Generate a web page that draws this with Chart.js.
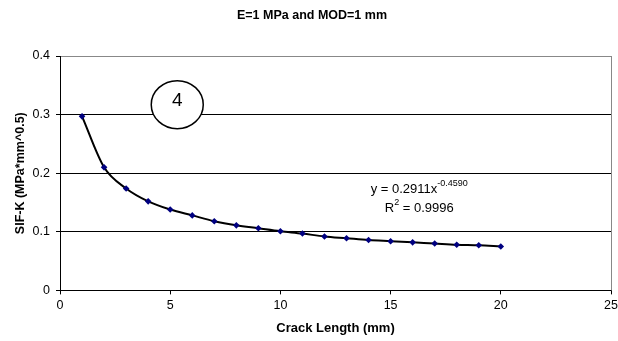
<!DOCTYPE html>
<html>
<head>
<meta charset="utf-8">
<script src="https://cdn.jsdelivr.net/npm/chart.js@4"></script>
<style>
  html, body { margin: 0; padding: 0; background: #fff; }
  #wrap { width: 618px; height: 341px; }
</style>
</head>
<body>
<div id="wrap"><canvas id="sifChart" width="618" height="341"></canvas></div>
<script>
const crackLength = [1, 2, 3, 4, 5, 6, 7, 8, 9, 10, 11, 12, 13, 14, 15, 16, 17, 18, 19, 20];
const sifK = [0.297, 0.210, 0.174, 0.152, 0.138, 0.128, 0.118, 0.111, 0.106, 0.101,
              0.097, 0.092, 0.089, 0.086, 0.084, 0.082, 0.080, 0.078, 0.077, 0.075];
const equationText = ['y = 0.2911x', '-0.4590'];
const rSquaredText = ['R', '2', ' = 0.9996'];
const markerLabel = '4';
const markerAt = { x: 5.32, y: 0.317 };
const equationAt = { x: 16.3, y: 0.172, y2: 0.140 };

const FONT = "'Liberation Sans', Arial, sans-serif";

// circle "4", equation text, and plot border
const extras = {
  id: 'extras',
  afterDatasetsDraw(chart) {
    const { ctx, chartArea, scales } = chart;
    ctx.save();
    // right border
    ctx.strokeStyle = '#888';
    ctx.lineWidth = 1;
    ctx.beginPath();
    ctx.moveTo(chartArea.right + 0.5, chartArea.top);
    ctx.lineTo(chartArea.right + 0.5, chartArea.bottom);
    ctx.stroke();

    // circled label
    const cx = scales.x.getPixelForValue(markerAt.x);
    const cy = scales.y.getPixelForValue(markerAt.y);
    ctx.beginPath();
    ctx.ellipse(cx, cy, 26, 24, 0, 0, Math.PI * 2);
    ctx.fillStyle = '#fff';
    ctx.fill();
    ctx.strokeStyle = '#000';
    ctx.lineWidth = 1.5;
    ctx.stroke();
    ctx.fillStyle = '#000';
    ctx.font = '19px ' + FONT;
    ctx.textAlign = 'center';
    ctx.textBaseline = 'middle';
    ctx.fillText(markerLabel, cx, cy - 4);

    // trendline equation
    const big = '13px ' + FONT, small = '9px ' + FONT;
    const ex = scales.x.getPixelForValue(equationAt.x);
    const ey = scales.y.getPixelForValue(equationAt.y);
    const ey2 = scales.y.getPixelForValue(equationAt.y2);
    ctx.textAlign = 'left';
    ctx.textBaseline = 'middle';
    ctx.font = big;
    const w1 = ctx.measureText(equationText[0]).width;
    ctx.font = small;
    const w2 = ctx.measureText(equationText[1]).width;
    let x0 = ex - (w1 + w2) / 2;
    ctx.font = big;
    ctx.fillText(equationText[0], x0, ey);
    ctx.font = small;
    ctx.fillText(equationText[1], x0 + w1, ey - 6);

    ctx.font = big;
    const r1 = ctx.measureText(rSquaredText[0]).width;
    const r3 = ctx.measureText(rSquaredText[2]).width;
    ctx.font = small;
    const r2 = ctx.measureText(rSquaredText[1]).width;
    x0 = ex - (r1 + r2 + r3) / 2;
    ctx.font = big;
    ctx.fillText(rSquaredText[0], x0, ey2);
    ctx.font = small;
    ctx.fillText(rSquaredText[1], x0 + r1, ey2 - 6);
    ctx.font = big;
    ctx.fillText(rSquaredText[2], x0 + r1 + r2, ey2);
    ctx.restore();
  }
};

const ctx = document.getElementById('sifChart').getContext('2d');
new Chart(ctx, {
  type: 'scatter',
  data: {
    datasets: [{
      data: crackLength.map((x, i) => ({ x, y: sifK[i] })),
      showLine: true,
      borderColor: '#000',
      borderWidth: 2,
      tension: 0.4,
      cubicInterpolationMode: 'monotone',
      pointStyle: 'rectRot',
      pointRadius: 3.3,
      pointBackgroundColor: '#000080',
      pointBorderColor: '#000080',
      pointBorderWidth: 0
    }]
  },
  options: {
    responsive: false,
    animation: false,
    layout: { padding: { left: 13, right: 7, top: 0, bottom: 5 } },
    plugins: {
      legend: { display: false },
      tooltip: { enabled: false },
      title: {
        display: true,
        text: 'E=1 MPa and MOD=1 mm',
        color: '#000',
        font: { family: FONT, size: 12.5, weight: 'bold' },
        padding: { top: 8, bottom: 33 }
      }
    },
    scales: {
      x: {
        type: 'linear',
        min: 0,
        max: 25,
        afterFit(scale) { scale.paddingRight = 0; },
        ticks: {
          stepSize: 5,
          color: '#000',
          padding: 4,
          font: { family: FONT, size: 12.5 }
        },
        grid: {
          drawOnChartArea: false,
          drawTicks: true,
          tickLength: 4,
          color: '#000',
          tickColor: '#000'
        },
        border: { color: '#000', width: 1 },
        title: {
          display: true,
          text: 'Crack Length (mm)',
          color: '#000',
          font: { family: FONT, size: 13, weight: 'bold' },
          padding: { top: 3, bottom: 0 }
        }
      },
      y: {
        min: 0,
        max: 0.4,
        afterFit(scale) { scale.width = 47; },
        ticks: {
          stepSize: 0.1,
          color: '#000',
          padding: 6,
          font: { family: FONT, size: 12.5 },
          callback: v => v === 0 ? '0' : v.toFixed(1)
        },
        grid: {
          drawTicks: true,
          tickLength: 4,
          color: c => (c.tick && c.tick.value >= 0.4 - 1e-9) ? '#888' : '#000',
          tickColor: '#000'
        },
        border: { color: '#000', width: 1 },
        title: {
          display: true,
          text: 'SIF-K (MPa*mm^0.5)',
          color: '#000',
          font: { family: FONT, size: 12.5, weight: 'bold' },
          padding: { top: 0, bottom: 4 }
        }
      }
    }
  },
  plugins: [extras]
});
</script>
</body>
</html>
